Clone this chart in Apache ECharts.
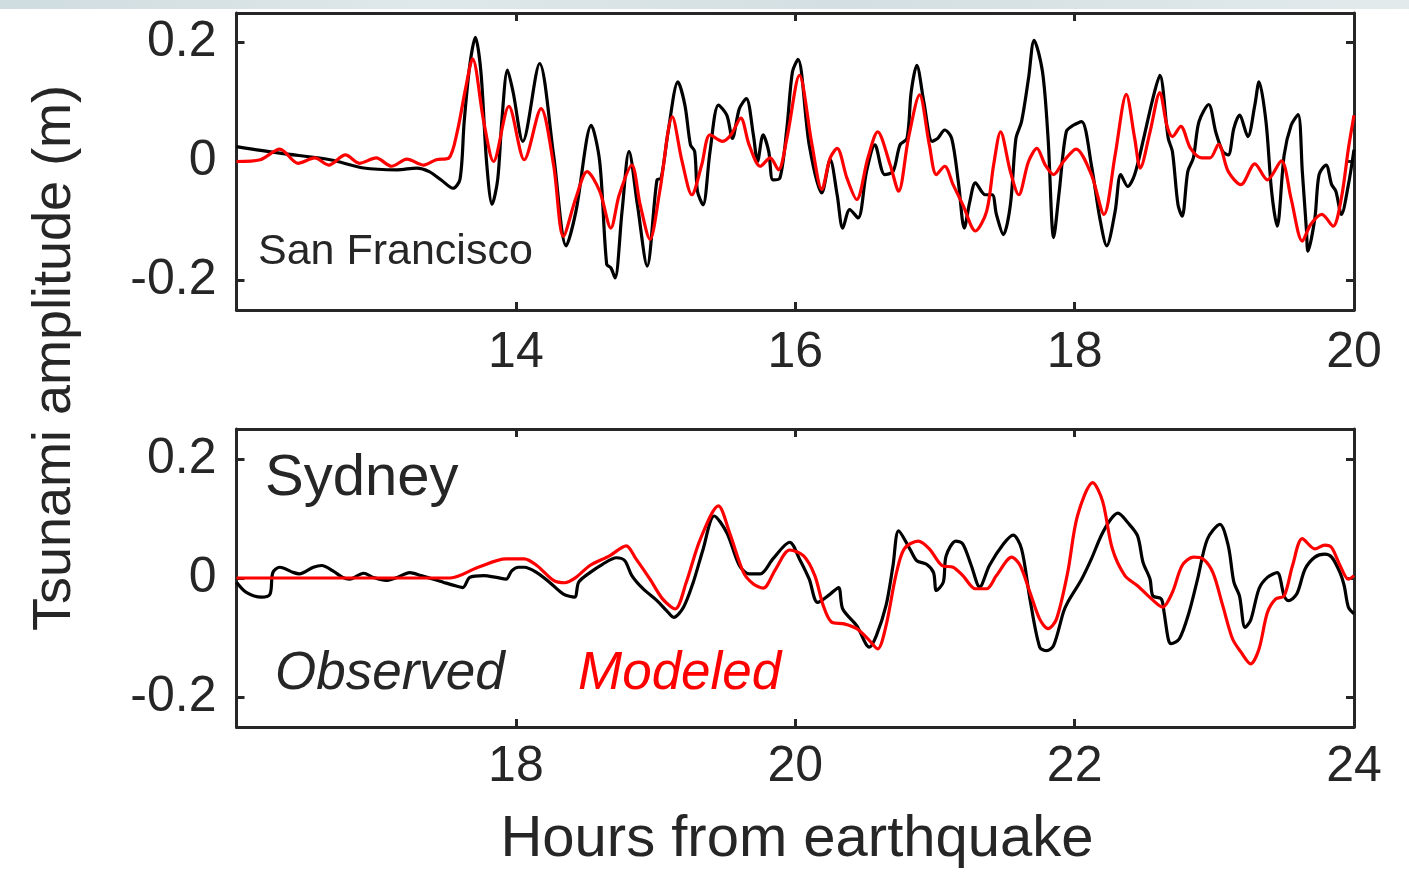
<!DOCTYPE html>
<html>
<head>
<meta charset="utf-8">
<title>Tsunami amplitude</title>
<script src="https://cdn.jsdelivr.net/npm/echarts@6/dist/echarts.min.js"></script>
<style>
  html, body { margin: 0; padding: 0; background: #ffffff; }
  #chart { width: 1409px; height: 873px; }
</style>
</head>
<body>
<div id="chart"></div>
<script>
// Tide-gauge records, [hours from earthquake, amplitude in m]
const sfObserved = [
  [12.00,0.025],[12.31,0.014],[12.67,0.003],[12.91,-0.011],[13.15,-0.014],[13.29,-0.011],[13.38,-0.017],
  [13.47,-0.032],[13.55,-0.045],[13.60,-0.030],[13.63,0.067],[13.67,0.162],[13.71,0.209],[13.75,0.150],
  [13.79,0.000],[13.83,-0.072],[13.87,-0.030],[13.90,0.070],[13.94,0.154],[13.98,0.117],[14.05,0.034],
  [14.17,0.165],[14.27,0.011],[14.36,-0.142],[14.43,-0.084],[14.54,0.061],[14.60,0.000],[14.65,-0.173],
  [14.68,-0.179],[14.71,-0.196],[14.76,-0.084],[14.81,0.017],[14.87,-0.073],[14.94,-0.176],[15.01,-0.031],
  [15.04,-0.028],[15.09,0.050],[15.16,0.134],[15.21,0.095],[15.25,0.028],[15.28,0.017],[15.30,-0.050],
  [15.34,-0.073],[15.39,0.017],[15.45,0.095],[15.51,0.078],[15.55,0.039],[15.60,0.089],[15.65,0.106],
  [15.70,0.045],[15.73,0.000],[15.77,0.045],[15.81,0.017],[15.84,-0.031],[15.89,-0.028],[15.94,0.056],
  [15.98,0.151],[16.02,0.172],[16.10,0.028],[16.19,-0.053],[16.25,0.003],[16.30,-0.056],[16.34,-0.112],
  [16.39,-0.081],[16.45,-0.095],[16.51,-0.017],[16.57,0.028],[16.64,-0.022],[16.70,-0.017],[16.75,0.028],
  [16.80,0.039],[16.83,0.117],[16.87,0.162],[16.92,0.101],[16.98,0.034],[17.02,0.039],[17.07,0.053],
  [17.12,0.039],[17.17,-0.039],[17.21,-0.112],[17.25,-0.067],[17.29,-0.036],[17.36,-0.056],[17.41,-0.056],
  [17.44,-0.089],[17.49,-0.123],[17.54,-0.073],[17.58,0.039],[17.62,0.067],[17.67,0.140],[17.71,0.204],
  [17.77,0.151],[17.81,0.039],[17.85,-0.128],[17.89,-0.050],[17.94,0.050],[17.99,0.061],[18.05,0.067],
  [18.12,-0.006],[18.18,-0.095],[18.23,-0.142],[18.29,-0.084],[18.33,-0.022],[18.38,-0.042],[18.43,-0.022],
  [18.50,0.045],[18.56,0.106],[18.61,0.145],[18.67,0.039],[18.70,0.017],[18.74,-0.073],[18.77,-0.092],
  [18.81,-0.017],[18.85,0.006],[18.89,0.067],[18.96,0.096],[19.01,0.050],[19.06,0.017],[19.10,0.011],
  [19.14,0.056],[19.18,0.078],[19.24,0.042],[19.29,0.095],[19.32,0.134],[19.37,0.067],[19.41,-0.050],
  [19.45,-0.109],[19.50,0.011],[19.55,0.061],[19.60,0.079],[19.63,-0.017],[19.66,-0.117],[19.67,-0.151],
  [19.72,-0.095],[19.75,-0.022],[19.80,-0.006],[19.84,-0.039],[19.87,-0.050],[19.91,-0.089],[19.96,-0.039],
  [20.00,0.020]
];

const sfModeled = [
  [12.00,0.000],[12.17,0.003],[12.31,0.021],[12.44,-0.003],[12.56,0.006],[12.66,-0.006],[12.78,0.011],
  [12.88,-0.003],[13.00,0.006],[13.11,-0.008],[13.22,0.004],[13.34,-0.006],[13.43,0.003],[13.52,0.006],
  [13.58,0.050],[13.64,0.123],[13.69,0.173],[13.77,0.067],[13.84,0.000],[13.95,0.093],[14.06,0.003],
  [14.18,0.089],[14.27,-0.006],[14.34,-0.126],[14.43,-0.061],[14.51,-0.017],[14.60,-0.050],[14.68,-0.112],
  [14.74,-0.056],[14.83,-0.006],[14.89,-0.073],[14.96,-0.131],[15.03,-0.050],[15.12,0.075],[15.19,0.000],
  [15.26,-0.056],[15.33,-0.006],[15.39,0.045],[15.48,0.034],[15.54,0.045],[15.61,0.073],[15.67,0.028],
  [15.75,-0.008],[15.82,0.006],[15.88,-0.014],[15.94,0.039],[16.03,0.145],[16.12,0.028],[16.19,-0.047],
  [16.25,0.006],[16.30,0.022],[16.37,-0.028],[16.44,-0.064],[16.52,0.006],[16.59,0.050],[16.68,-0.006],
  [16.74,-0.050],[16.81,0.039],[16.89,0.112],[16.96,0.028],[17.01,-0.022],[17.07,-0.008],[17.13,-0.039],
  [17.20,-0.073],[17.29,-0.117],[17.37,-0.084],[17.42,-0.006],[17.47,0.050],[17.54,-0.017],[17.60,-0.056],
  [17.67,0.000],[17.73,0.022],[17.79,-0.006],[17.85,-0.022],[17.92,0.000],[18.01,0.021],[18.12,-0.022],
  [18.21,-0.089],[18.29,0.011],[18.37,0.113],[18.43,0.039],[18.47,-0.011],[18.54,0.050],[18.61,0.116],
  [18.66,0.061],[18.70,0.042],[18.76,0.059],[18.83,0.022],[18.91,0.006],[18.97,0.006],[19.03,0.029],
  [19.10,-0.017],[19.19,-0.039],[19.29,-0.004],[19.38,-0.031],[19.48,0.001],[19.55,-0.063],[19.63,-0.134],
  [19.69,-0.106],[19.77,-0.089],[19.85,-0.109],[19.91,-0.061],[19.96,0.022],[20.00,0.078]
];

const sydObserved = [
  [16.00,-0.007],[16.07,-0.024],[16.18,-0.032],[16.24,-0.027],[16.26,0.009],[16.31,0.018],[16.41,0.009],
  [16.45,0.007],[16.55,0.018],[16.61,0.021],[16.69,0.012],[16.76,0.001],[16.81,-0.002],[16.91,0.008],
  [16.98,0.001],[17.07,-0.004],[17.15,0.001],[17.24,0.009],[17.32,0.004],[17.41,-0.002],[17.48,-0.007],
  [17.55,-0.012],[17.62,-0.016],[17.67,0.001],[17.77,0.004],[17.86,0.001],[17.93,-0.002],[17.97,0.012],
  [18.02,0.018],[18.06,0.018],[18.15,0.009],[18.24,-0.007],[18.34,-0.027],[18.42,-0.032],[18.45,-0.007],
  [18.53,0.009],[18.62,0.023],[18.72,0.034],[18.78,0.029],[18.83,0.004],[18.91,-0.018],[19.01,-0.038],
  [19.08,-0.055],[19.13,-0.066],[19.20,-0.049],[19.27,-0.007],[19.34,0.048],[19.42,0.104],[19.51,0.076],
  [19.60,0.021],[19.67,0.007],[19.75,0.007],[19.84,0.032],[19.96,0.060],[20.03,0.032],[20.10,-0.002],
  [20.16,-0.041],[20.25,-0.027],[20.31,-0.016],[20.34,-0.052],[20.44,-0.080],[20.53,-0.116],[20.58,-0.097],
  [20.65,-0.046],[20.70,0.021],[20.74,0.079],[20.82,0.049],[20.87,0.029],[20.94,0.023],[20.99,0.009],
  [21.01,-0.021],[21.06,-0.007],[21.08,0.037],[21.15,0.062],[21.20,0.057],[21.26,0.021],[21.32,-0.015],
  [21.39,0.021],[21.49,0.057],[21.56,0.072],[21.62,0.049],[21.68,-0.035],[21.75,-0.116],[21.80,-0.122],
  [21.85,-0.113],[21.92,-0.057],[21.95,-0.041],[22.05,-0.002],[22.12,0.032],[22.19,0.071],[22.26,0.099],
  [22.31,0.109],[22.38,0.093],[22.45,0.071],[22.49,0.026],[22.54,-0.002],[22.56,-0.030],[22.62,-0.035],
  [22.64,-0.057],[22.67,-0.102],[22.69,-0.110],[22.75,-0.102],[22.82,-0.057],[22.88,-0.002],[22.95,0.065],
  [23.04,0.090],[23.10,0.054],[23.14,-0.007],[23.18,-0.030],[23.22,-0.083],[23.26,-0.071],[23.32,-0.018],
  [23.38,0.001],[23.45,0.009],[23.50,-0.030],[23.53,-0.038],[23.59,-0.027],[23.65,0.015],[23.72,0.035],
  [23.79,0.040],[23.84,0.035],[23.90,0.009],[23.93,-0.013],[23.96,-0.049],[24.00,-0.060]
];

const sydModeled = [
  [16.00,0.000],[17.53,0.000],[17.73,0.018],[17.93,0.032],[18.06,0.032],[18.15,0.021],[18.27,-0.004],
  [18.35,-0.008],[18.43,0.001],[18.53,0.021],[18.67,0.037],[18.79,0.054],[18.86,0.032],[18.96,-0.002],
  [19.05,-0.035],[19.14,-0.052],[19.22,-0.007],[19.32,0.065],[19.45,0.121],[19.53,0.076],[19.63,0.009],
  [19.70,-0.010],[19.77,-0.017],[19.86,0.015],[19.96,0.047],[20.06,0.037],[20.14,0.004],[20.20,-0.046],
  [20.26,-0.074],[20.35,-0.077],[20.44,-0.085],[20.52,-0.102],[20.59,-0.119],[20.65,-0.080],[20.72,0.004],
  [20.78,0.049],[20.88,0.062],[20.96,0.049],[21.05,0.021],[21.13,0.018],[21.20,0.004],[21.29,-0.018],
  [21.37,-0.018],[21.44,0.004],[21.55,0.035],[21.61,0.021],[21.68,-0.024],[21.75,-0.069],[21.81,-0.085],
  [21.87,-0.069],[21.95,0.009],[22.02,0.104],[22.13,0.160],[22.20,0.129],[22.27,0.049],[22.36,0.004],
  [22.45,-0.013],[22.55,-0.035],[22.63,-0.049],[22.70,-0.024],[22.77,0.021],[22.85,0.035],[22.92,0.032],
  [22.99,0.009],[23.06,-0.046],[23.13,-0.102],[23.19,-0.124],[23.26,-0.144],[23.32,-0.119],[23.38,-0.058],
  [23.44,-0.035],[23.50,-0.030],[23.56,0.021],[23.63,0.066],[23.72,0.049],[23.79,0.055],[23.84,0.051],
  [23.90,0.021],[23.96,-0.002],[24.00,0.004]
];

// Axis ranges and tick labels
const sfHours = [12, 20];
const sydHours = [16, 24];
const sfHourTicks = [14, 16, 18, 20];
const sydHourTicks = [18, 20, 22, 24];
const ampRange = [-0.25, 0.25];
const ampTicks = [-0.2, 0, 0.2];

const FONT = "'Liberation Sans', Arial, Helvetica, sans-serif";
const INK = '#262626';
const BOX_W = 3;

function xAxes(gridIndex, range, ticks, labelMargin) {
  const common = {
    gridIndex, type: 'value', min: range[0], max: range[1],
    splitLine: { show: false },
    axisLine: { show: true, onZero: false, lineStyle: { color: INK, width: BOX_W } },
    axisTick: { show: true, inside: true, length: 8, customValues: ticks, lineStyle: { color: INK, width: BOX_W } }
  };
  return [
    Object.assign({}, common, {
      position: 'bottom',
      axisLabel: { show: true, customValues: ticks, margin: labelMargin, fontSize: 50, color: INK, fontFamily: FONT }
    }),
    Object.assign({}, common, { position: 'top', axisLabel: { show: false } })
  ];
}

function yAxes(gridIndex) {
  const common = {
    gridIndex, type: 'value', min: ampRange[0], max: ampRange[1],
    splitLine: { show: false },
    axisLine: { show: true, onZero: false, lineStyle: { color: INK, width: BOX_W } },
    axisTick: { show: true, inside: true, length: 8, customValues: ampTicks, lineStyle: { color: INK, width: BOX_W } }
  };
  return [
    Object.assign({}, common, {
      position: 'left',
      axisLabel: {
        show: true, customValues: ampTicks, margin: 20, fontSize: 50, color: INK, fontFamily: FONT,
        formatter: v => (Math.abs(v) < 1e-9 ? '0' : v.toFixed(1))
      }
    }),
    Object.assign({}, common, { position: 'right', axisLabel: { show: false } })
  ];
}

function trace(data, color, xi, yi, z) {
  return {
    type: 'line', data, xAxisIndex: xi, yAxisIndex: yi,
    showSymbol: false, smooth: 0.3, clip: true, z,
    lineStyle: { color, width: 3.2 },
    emphasis: { disabled: true }
  };
}

const chart = echarts.init(document.getElementById('chart'), null, { renderer: 'canvas' });

chart.setOption({
  animation: false,
  backgroundColor: '#ffffff',
  grid: [
    { left: 236.5, top: 13, width: 1117.5, height: 297 },
    { left: 236.5, top: 429, width: 1117.5, height: 298 }
  ],
  xAxis: [].concat(xAxes(0, sfHours, sfHourTicks, 18), xAxes(1, sydHours, sydHourTicks, 15)),
  yAxis: [].concat(yAxes(0), yAxes(1)),
  series: [
    trace(sfObserved, '#000000', 0, 0, 2),
    trace(sfModeled, '#ff0000', 0, 0, 3),
    trace(sydObserved, '#000000', 2, 2, 2),
    trace(sydModeled, '#ff0000', 2, 2, 3)
  ],
  graphic: [
    {
      type: 'rect', silent: true, z: 0,
      shape: { x: 0, y: 0, width: 1409, height: 9 },
      style: {
        fill: new echarts.graphic.LinearGradient(0, 0, 1, 0, [
          { offset: 0, color: '#cfdcdf' },
          { offset: 0.3, color: '#dfe8ea' },
          { offset: 0.6, color: '#d3dfe2' },
          { offset: 1, color: '#e2eaec' }
        ])
      }
    },
    {
      type: 'text', silent: true, x: 55, y: 358, rotation: Math.PI / 2,
      style: { text: 'Tsunami amplitude (m)', font: '54px ' + FONT, fill: INK, align: 'center', verticalAlign: 'middle' }
    },
    {
      type: 'text', silent: true, x: 797, y: 840,
      style: { text: 'Hours from earthquake', font: '58px ' + FONT, fill: INK, align: 'center', verticalAlign: 'middle' }
    },
    {
      type: 'text', silent: true, x: 258, y: 252, z: 10,
      style: { text: 'San Francisco', font: '43px ' + FONT, fill: INK, align: 'left', verticalAlign: 'middle' }
    },
    {
      type: 'text', silent: true, x: 265, y: 479, z: 10,
      style: { text: 'Sydney', font: '58px ' + FONT, fill: INK, align: 'left', verticalAlign: 'middle' }
    },
    {
      type: 'text', silent: true, x: 275, y: 674, z: 10,
      style: { text: 'Observed', font: 'italic 53px ' + FONT, fill: INK, align: 'left', verticalAlign: 'middle' }
    },
    {
      type: 'text', silent: true, x: 578, y: 674, z: 10,
      style: { text: 'Modeled', font: 'italic 53px ' + FONT, fill: '#ff0000', align: 'left', verticalAlign: 'middle' }
    }
  ]
});
</script>
</body>
</html>
